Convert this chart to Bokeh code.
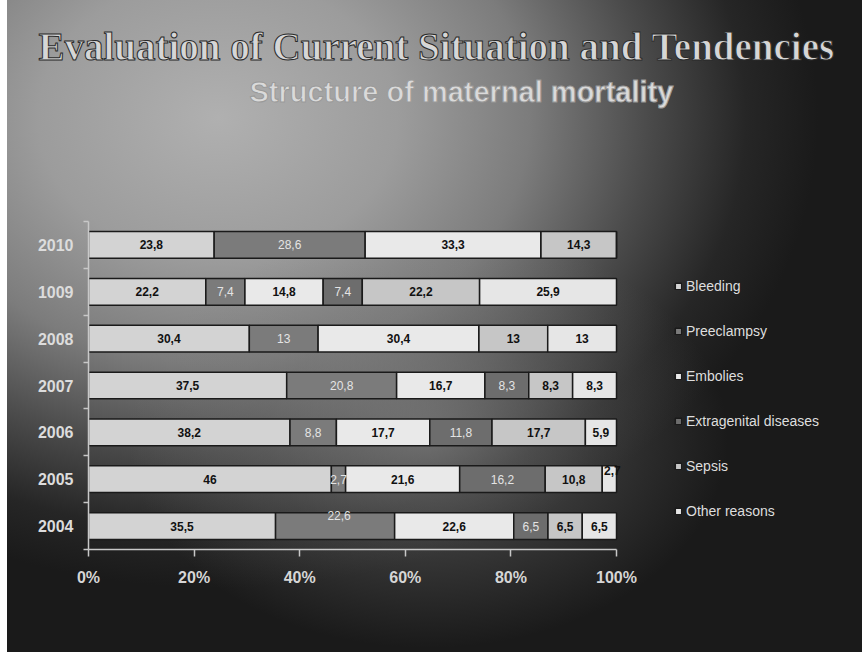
from bokeh.plotting import figure
from bokeh.models import (ColumnDataSource, Range1d, FixedTicker, Legend, LegendItem, Title)
from bokeh.core.properties import value
from bokeh.embed import file_html
from bokeh.resources import INLINE

# ---------------- data ----------------
years = ["2010", "1009", "2008", "2007", "2006", "2005", "2004"]   # top -> bottom
causes = ["Bleeding", "Preeclampsy", "Embolies", "Extragenital diseases", "Sepsis", "Other reasons"]
bleeding     = [23.8, 22.2, 30.4, 37.5, 38.2, 46.0, 35.5]
preeclampsy  = [28.6, 7.4, 13.0, 20.8, 8.8, 2.7, 22.6]
embolies     = [33.3, 14.8, 30.4, 16.7, 17.7, 21.6, 22.6]
extragenital = [0.0, 7.4, 0.0, 8.3, 11.8, 16.2, 6.5]
sepsis       = [14.3, 22.2, 13.0, 8.3, 17.7, 10.8, 6.5]
other        = [0.0, 25.9, 13.0, 8.3, 5.9, 2.7, 6.5]
x_ticks = [0, 20, 40, 60, 80, 100]
x_tick_labels = ["0%", "20%", "40%", "60%", "80%", "100%"]
title_text = "Evaluation of Current Situation and Tendencies"
subtitle_text = "Structure of maternal mortality"

# ---------------- style ----------------
colors = ["#d3d3d3", "#7b7b7b", "#e9e9e9", "#6d6d6d", "#c6c6c6", "#e6e6e6"]
dark_series = {"Preeclampsy", "Extragenital diseases"}
label_nudge = {("2005", "Other reasons"): (3, -9), ("2004", "Preeclampsy"): (4, -11)}
SANS = "Liberation Sans"
SERIF = "Liberation Serif"

series = [bleeding, preeclampsy, embolies, extragenital, sepsis, other]
n = len(years)
ypos = [n - i - 0.5 for i in range(n)]

# 100% stacked shares
totals = [sum(s[i] for s in series) for i in range(n)]
keys = ["s%d" % k for k in range(len(causes))]
data = {"y": ypos}
for k, s in zip(keys, series):
    data[k] = [s[i] / totals[i] * 100.0 for i in range(n)]
src = ColumnDataSource(data)

W, H = 862, 652
LEFT, TOP, BOTTOM = 88, 221, 103
PLOT_W = 528                         # pixels for 0..100 %
x_end = 100.0 * (W - LEFT) / PLOT_W  # frame extends to the right edge (legend area)

p = figure(width=W, height=H, output_backend="svg", toolbar_location=None,
           x_range=Range1d(0, x_end), y_range=Range1d(0, n),
           min_border_left=LEFT, min_border_right=0, min_border_top=TOP, min_border_bottom=BOTTOM,
           background_fill_color=None, border_fill_color=None, outline_line_color=None)
p.styles = {
    "background": (
        "linear-gradient(#ffffff, #ffffff) 0 0 / 7px 100% no-repeat,"
        "radial-gradient(ellipse 300px 210px at 428px 438px, rgba(150,150,150,0.55) 0%, rgba(120,120,120,0.30) 55%, rgba(0,0,0,0) 100%),"
        "radial-gradient(ellipse 600px 470px at 218px 118px, #b0b0b0 0%, #9c9c9c 30%, #7c7c7c 52%, #4a4a4a 72%, #262626 88%, #1a1a1a 100%),"
        "#1a1a1a"
    ),
}

renderers = p.hbar_stack(keys, y="y", height=0.57, color=colors, source=src,
                         line_color="#1a1a1a", line_width=1.5)

# segment labels
lx, ly, lt, ldx, ldy = [], [], [], [], []
dx_, dy_, dt, ddx, ddy = [], [], [], [], []
for i in range(n):
    left = 0.0
    for k, (c, s) in enumerate(zip(causes, series)):
        share = data[keys[k]][i]
        if s[i] > 0:
            cx = left + share / 2.0
            txt = ("%g" % s[i]).replace(".", ",")
            ox, oy = label_nudge.get((years[i], c), (0, 0))
            if c in dark_series:
                dx_.append(cx); dy_.append(ypos[i]); dt.append(txt); ddx.append(ox); ddy.append(oy)
            else:
                lx.append(cx); ly.append(ypos[i]); lt.append(txt); ldx.append(ox); ldy.append(oy)
        left += share

p.text(x="x", y="y", text="t", x_offset="ox", y_offset="oy",
       source=ColumnDataSource(dict(x=lx, y=ly, t=lt, ox=ldx, oy=ldy)),
       text_font=value(SANS), text_font_size="12px", text_font_style="bold",
       text_color="#111111", text_align="center", text_baseline="middle")
p.text(x="x", y="y", text="t", x_offset="ox", y_offset="oy",
       source=ColumnDataSource(dict(x=dx_, y=dy_, t=dt, ox=ddx, oy=ddy)),
       text_font=value(SANS), text_font_size="12px", text_font_style="normal",
       text_color="#e4e4e4", text_align="center", text_baseline="middle")

# axes
p.xgrid.visible = False
p.ygrid.visible = False
xa = p.xaxis[0]
xa.bounds = (0, 100)
xa.ticker = FixedTicker(ticks=x_ticks, minor_ticks=[])
xa.major_label_overrides = {t: l for t, l in zip(x_ticks, x_tick_labels)}
xa.axis_line_color = "#c8c8c8"
xa.axis_line_width = 1.5
xa.major_tick_line_color = "#c8c8c8"
xa.major_tick_line_width = 1.5
xa.major_tick_out = 7
xa.major_tick_in = 0
xa.major_label_standoff = 12
xa.major_label_text_font = SANS
xa.major_label_text_font_size = "16px"
xa.major_label_text_font_style = "bold"
xa.major_label_text_color = "#d6d6d6"

ya = p.yaxis[0]
ya.ticker = FixedTicker(ticks=ypos, minor_ticks=list(range(n + 1)))
ya.major_label_overrides = {y: t for y, t in zip(ypos, years)}
ya.axis_line_color = "#c8c8c8"
ya.axis_line_width = 1.5
ya.major_tick_out = 0
ya.major_tick_in = 0
ya.minor_tick_out = 5
ya.minor_tick_in = 0
ya.minor_tick_line_color = "#c8c8c8"
ya.minor_tick_line_width = 1.5
ya.major_label_standoff = 10
ya.major_label_text_font = SANS
ya.major_label_text_font_size = "16px"
ya.major_label_text_font_style = "bold"
ya.major_label_text_color = "#dcdcdc"

# legend (inside the widened frame, right of the bars)
legend = Legend(items=[LegendItem(label=c, renderers=[r]) for c, r in zip(causes, renderers)],
                location=(586, 28), orientation="vertical",
                glyph_width=8, glyph_height=8, label_height=20, spacing=25,
                label_standoff=4, padding=0, margin=0,
                label_text_font=SANS, label_text_font_size="14px", label_text_color="#dedede",
                background_fill_alpha=0, border_line_alpha=0)
p.add_layout(legend, "center")

# titles: spacer (nearest the frame), subtitle, title
has_outline = "text_outline_color" in Title.properties()
spacer = Title(text=" ", text_font_size="1px", standoff=111)
sub_kw = dict(text=subtitle_text, align="left", offset=249 - LEFT,
              text_font=SANS, text_font_size="29px", text_font_style="bold",
              text_color="#dadada", standoff=0)
tit_kw = dict(text=title_text, align="left", offset=38 - LEFT,
              text_font=SERIF, text_font_size="39px", text_font_style="bold",
              text_color="#d6d6d6", standoff=12)
if has_outline:
    sub_kw["text_outline_color"] = "#9a9a9a"
    tit_kw["text_outline_color"] = "#2a2a2a"
p.add_layout(spacer, "above")
p.add_layout(Title(**sub_kw), "above")
p.add_layout(Title(**tit_kw), "above")

open("out.html", "w").write(file_html(p, INLINE))
